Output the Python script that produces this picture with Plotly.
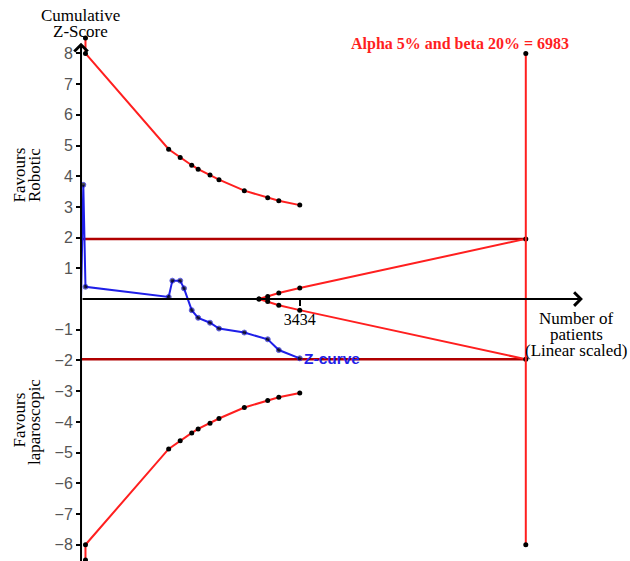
import plotly.graph_objects as go

# ---------------- data ----------------
RIS = 6983
ris_label = "Alpha 5% and beta 20% = 6983"

# Cumulative Z-curve
z_n = [0, 36, 70, 1376, 1434, 1557, 1617, 1738, 1839, 2025, 2166, 2564, 2931, 3105, 3434]
z_vals = [0, 3.72, 0.40, 0.07, 0.60, 0.60, 0.35, -0.36, -0.61, -0.77, -0.96, -1.09, -1.31, -1.66, -1.93]

# O'Brien-Fleming monitoring boundaries
b_n = [70, 70, 1376, 1557, 1738, 1839, 2025, 2166, 2564, 2931, 3105, 3434]
b_upper = [8.5, 8.0, 4.88, 4.61, 4.36, 4.23, 4.04, 3.89, 3.53, 3.30, 3.20, 3.06]
b_lower = [-v for v in b_upper]

# Futility (inner wedge) boundaries
f_n = [2794, 2931, 3105, 3434, RIS]
f_upper = [0, 0.08, 0.20, 0.36, 1.96]
f_lower = [-v for v in f_upper]

# Conventional boundaries
conv_z = 1.96

# RIS vertical
ris_z = [8, -8]

y_ticks = [-8, -7, -6, -5, -4, -3, -2, -1, 1, 2, 3, 4, 5, 6, 7, 8]
x_ticks = [3434]

# ---------------- figure ----------------
W, H = 630, 561
xr = [-1272, 8619]
yr = [-8.53, 9.74]

RED = "#ff1f1f"
DRED = "#b00000"
BLUE = "#1f1fe8"
SERIF = "Liberation Serif"
SANS = "Liberation Sans"

fig = go.Figure()

# conventional lines
for zc in (conv_z, -conv_z):
    fig.add_trace(go.Scatter(x=[0, RIS], y=[zc, zc], mode="lines",
                             line=dict(color=DRED, width=2.5), hoverinfo="skip",
                             cliponaxis=False))

mk = dict(color="black", size=5)
fig.add_trace(go.Scatter(x=b_n, y=b_upper, mode="lines+markers",
                         line=dict(color=RED, width=2), marker=mk, cliponaxis=False))
fig.add_trace(go.Scatter(x=b_n, y=b_lower, mode="lines+markers",
                         line=dict(color=RED, width=2), marker=mk, cliponaxis=False))
fig.add_trace(go.Scatter(x=f_n, y=f_upper, mode="lines+markers",
                         line=dict(color=RED, width=2), marker=mk, cliponaxis=False))
fig.add_trace(go.Scatter(x=f_n, y=f_lower, mode="lines+markers",
                         line=dict(color=RED, width=2), marker=mk, cliponaxis=False))
fig.add_trace(go.Scatter(x=[RIS, RIS], y=ris_z, mode="lines+markers",
                         line=dict(color=RED, width=2), marker=mk, cliponaxis=False))

zsizes = [0] + [5] * (len(z_n) - 1)
fig.add_trace(go.Scatter(x=z_n, y=z_vals, mode="lines+markers",
                         line=dict(color=BLUE, width=2),
                         marker=dict(color="black", size=zsizes), cliponaxis=False))

xpos = (0 - xr[0]) / (xr[1] - xr[0])
ypos = (0 - yr[0]) / (yr[1] - yr[0])

fig.update_layout(
    width=W, height=H, autosize=False,
    margin=dict(l=0, r=0, t=0, b=0),
    paper_bgcolor="white", plot_bgcolor="white",
    showlegend=False,
    xaxis=dict(range=xr, showgrid=False, zeroline=False, showline=False,
               tickvals=x_ticks, ticktext=[str(v) for v in x_ticks],
               ticks="outside", ticklen=6, tickwidth=2, tickcolor="black",
               tickfont=dict(family=SERIF, size=16, color="black"),
               anchor="free", position=ypos, fixedrange=True),
    yaxis=dict(range=yr, showgrid=False, zeroline=False, showline=False,
               tickvals=y_ticks,
               ticks="outside", ticklen=5, tickwidth=2, tickcolor="black",
               tickfont=dict(family=SANS, size=16, color="#555555"),
               anchor="free", position=xpos, fixedrange=True),
)

# axis arrows
fig.add_annotation(x=7880, y=0, ax=0, ay=0, xref="x", yref="y", axref="x", ayref="y",
                   text="", showarrow=True, arrowhead=4, arrowsize=1.3, arrowwidth=2,
                   arrowcolor="black")
fig.add_annotation(x=0, y=8.35, ax=0, ay=-8.6, xref="x", yref="y", axref="x", ayref="y",
                   text="", showarrow=True, arrowhead=4, arrowsize=1.3, arrowwidth=2,
                   arrowcolor="black")


def txt(s, px, py, size=17, color="black", family=SERIF, angle=0, xanchor="center", bold=False):
    if bold:
        s = "<b>" + s + "</b>"
    fig.add_annotation(x=px / W, y=1 - py / H, xref="paper", yref="paper", text=s,
                       showarrow=False, xanchor=xanchor, yanchor="middle",
                       textangle=angle, font=dict(family=family, size=size, color=color))


txt("Cumulative", 81, 15.5)
txt("Z-Score", 81, 31.5)
txt("Favours", 18.5, 175, angle=-90)
txt("Robotic", 34, 175, angle=-90)
txt("Favours", 18.5, 420, angle=-90)
txt("laparoscopic", 34, 422, angle=-90)
txt(ris_label, 460, 44, size=16, color=RED, bold=True)
txt("Number of", 576, 318)
txt("patients", 576, 334.5)
txt("(Linear scaled)", 576, 351)
txt("Z-curve", 302, 358, size=15.5, color=BLUE, family=SANS, xanchor="left", bold=True)

fig.write_html(
    "out.html",
    config={"displayModeBar": False},
    post_script="document.body.style.margin='0';document.body.style.padding='0';"
                "document.body.style.overflow='hidden';",
)
